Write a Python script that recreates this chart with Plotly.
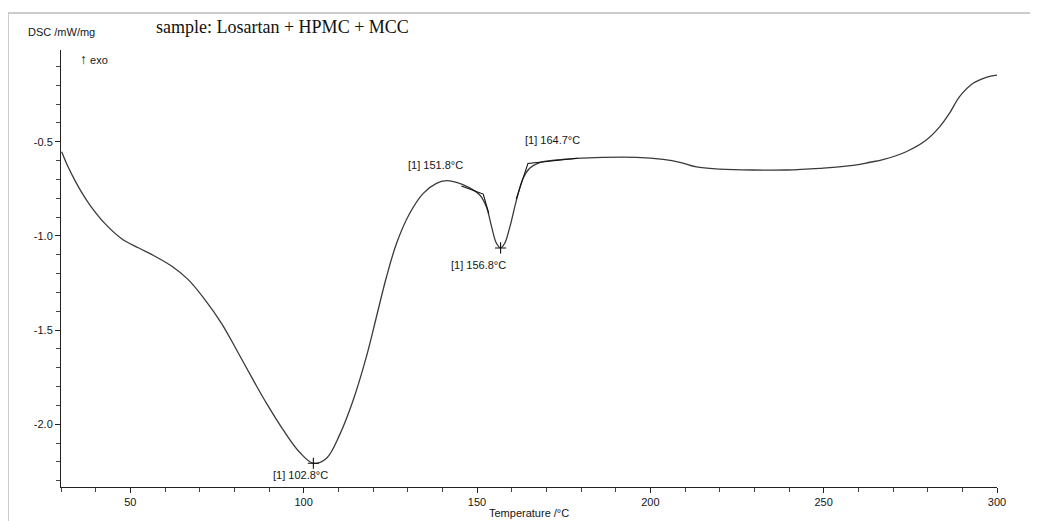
import plotly.graph_objects as go

# ---- data ----
temperature = [30.2, 32.0, 34.0, 36.0, 38.5, 42.7, 47.5, 52.3, 57.1, 61.9, 66.7, 71.5, 76.3, 81.1,
               85.9, 89.3, 94.1, 98.9, 102.8, 106.6, 110.4, 114.3, 118.1, 121.0, 123.9,
               126.8, 130.6, 134.5, 138.3, 141.2, 144.1, 147.9, 150.8, 152.7, 154.2,
               155.6, 156.8, 158.0, 159.5, 161.4, 163.3, 165.2, 168.1, 172.9, 178.7,
               186.4, 196.0, 203.7, 208.5, 213.3, 220.0, 229.6, 239.3, 248.9, 258.5,
               263.3, 267.1, 273.8, 279.6, 283.5, 286.3, 289.2, 293.1, 296.9, 300.0]
dsc = [-0.553, -0.632, -0.705, -0.770, -0.840, -0.935, -1.015, -1.063, -1.108, -1.160,
       -1.232, -1.338, -1.464, -1.620, -1.780, -1.889, -2.030, -2.150, -2.207, -2.180,
       -2.055, -1.871, -1.641, -1.429, -1.217, -1.039, -0.880, -0.774, -0.721, -0.707,
       -0.716, -0.745, -0.783, -0.845, -0.951, -1.039, -1.063, -1.039, -0.951, -0.809,
       -0.694, -0.641, -0.611, -0.597, -0.588, -0.583, -0.583, -0.594, -0.609, -0.634,
       -0.645, -0.650, -0.650, -0.641, -0.626, -0.609, -0.595, -0.553, -0.491, -0.420,
       -0.349, -0.261, -0.190, -0.158, -0.146]

# onset tangent constructions
onset1_x = [145.5, 151.8, 153.4]
onset1_y = [-0.735, -0.778, -0.880]
onset2_x = [161.3, 164.7, 179.0]
onset2_y = [-0.805, -0.615, -0.588]

peak_x = [102.8, 156.8]
peak_y = [-2.207, -1.064]

labels = ["[1] 102.8°C", "[1] 151.8°C", "[1] 156.8°C", "[1] 164.7°C"]
label_x = [99.1, 138.1, 150.5, 171.9]
label_y = [-2.269, -0.624, -1.155, -0.491]

y_tickvals = [-2.0, -1.5, -1.0, -0.5]
y_ticktext = ["-2.0", "-1.5", "-1.0", "-0.5"]
x_tickvals = [50, 100, 150, 200, 250, 300]

SANS = "Liberation Sans, Arial, sans-serif"
SERIF = "Liberation Serif, Times New Roman, serif"
INK = "#151515"

fig = go.Figure()
fig.add_trace(go.Scatter(x=temperature, y=dsc, mode="lines",
                         line=dict(color="#3a3a3a", width=1.3, shape="spline", smoothing=1.0),
                         hoverinfo="skip", showlegend=False))
for xs, ys in [(onset1_x, onset1_y), (onset2_x, onset2_y)]:
    fig.add_trace(go.Scatter(x=xs, y=ys, mode="lines",
                             line=dict(color="#111111", width=1.1),
                             hoverinfo="skip", showlegend=False))
fig.add_trace(go.Scatter(x=peak_x, y=peak_y, mode="markers",
                         marker=dict(symbol="cross-thin-open", size=8, color="#111111",
                                     line=dict(color="#111111", width=1.1)),
                         hoverinfo="skip", showlegend=False))

# page is rendered with the default 8px body margin
OFF = 8
PAGE_W, PAGE_H = 1038, 521
L, R, T, B = 61, 997, 50, 487   # plot area in page pixels


def px(xp):
    return (xp - L) / (R - L)


def py(yp):
    return (B - yp) / (B - T)


annotations = []
for t, x, y in zip(labels, label_x, label_y):
    annotations.append(dict(x=x, y=y, xref="x", yref="y", text=t, showarrow=False,
                            font=dict(family=SANS, size=11, color=INK)))
annotations += [
    dict(x=px(26), y=py(32), xref="paper", yref="paper", text="DSC /mW/mg",
         showarrow=False, xanchor="left", yanchor="middle",
         font=dict(family=SANS, size=11, color=INK)),
    dict(x=px(154), y=py(27), xref="paper", yref="paper",
         text="sample: Losartan + HPMC + MCC", showarrow=False,
         xanchor="left", yanchor="middle",
         font=dict(family=SERIF, size=18, color="#111111")),
    dict(x=px(78), y=py(59), xref="paper", yref="paper",
         text="<span style='font-size:14px'>↑</span> exo",
         showarrow=False, xanchor="left", yanchor="middle",
         font=dict(family=SANS, size=11, color=INK)),
    dict(x=px(487), y=py(513), xref="paper", yref="paper", text="Temperature /°C",
         showarrow=False, xanchor="left", yanchor="middle",
         font=dict(family=SANS, size=11, color=INK)),
]

shapes = [
    dict(type="line", xref="paper", yref="paper", x0=px(8), x1=px(1040),
         y0=py(13), y1=py(13), line=dict(color="#bbbbbb", width=1.5)),
    dict(type="line", xref="paper", yref="paper", x0=px(8), x1=px(8),
         y0=py(13), y1=py(523), line=dict(color="#bbbbbb", width=1.5)),
]

fig.update_layout(
    width=PAGE_W - OFF, height=PAGE_H - OFF,
    margin=dict(l=L - OFF, r=PAGE_W - R, t=T - OFF, b=PAGE_H - B),
    paper_bgcolor="white", plot_bgcolor="white",
    annotations=annotations, shapes=shapes,
    showlegend=False,
)
fig.update_xaxes(range=[30, 300], showgrid=False, zeroline=False,
                 showline=True, linecolor="#222222", linewidth=1,
                 tickmode="array", tickvals=x_tickvals,
                 ticks="outside", ticklen=5, tickcolor="#222222",
                 tickfont=dict(family=SANS, size=11, color=INK),
                 minor=dict(tickmode="linear", tick0=0, dtick=10, ticks="outside",
                            ticklen=4, tickcolor="#444444"))
fig.update_yaxes(range=[-2.333, -0.013], showgrid=False, zeroline=False,
                 showline=True, linecolor="#222222", linewidth=1,
                 tickmode="array", tickvals=y_tickvals, ticktext=y_ticktext,
                 ticks="outside", ticklen=5, tickcolor="#222222",
                 tickfont=dict(family=SANS, size=11, color=INK),
                 minor=dict(tickmode="linear", tick0=0, dtick=0.1, ticks="outside",
                            ticklen=4, tickcolor="#444444"))

fig.write_html("out.html")
